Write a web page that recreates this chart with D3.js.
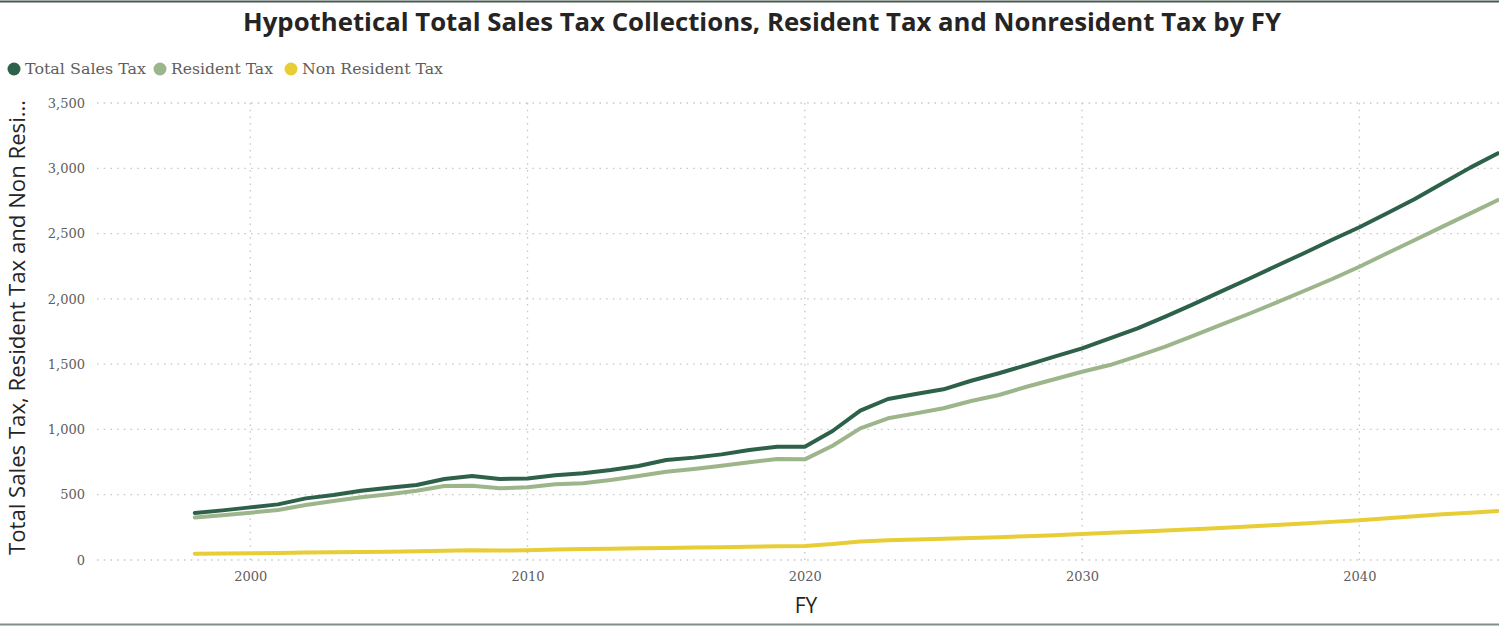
<!DOCTYPE html>
<html>
<head>
<meta charset="utf-8">
<script src="https://cdn.jsdelivr.net/npm/d3@7"></script>
<style>
  body { margin: 0; background: #fff; }
  svg { display: block; }
</style>
</head>
<body>
<svg width="1499" height="627"></svg>
<script>
// data
var years = d3.range(1998, 2046);
var totalTax = [360, 380, 403, 426, 472, 498, 531, 554, 574, 620, 643, 620, 625, 649,
  664, 689, 720, 766, 784, 809, 842, 868, 868, 988, 1144, 1233, 1271, 1307, 1373,
  1430, 1493, 1557, 1621, 1698, 1774, 1864, 1958, 2055, 2152, 2252, 2349, 2451,
  2548, 2655, 2765, 2885, 3005, 3115];
var residentTax = [326, 343, 362, 383, 421, 452, 480, 503, 531, 567, 569, 549, 557, 580,
  587, 613, 643, 676, 697, 722, 748, 774, 771, 875, 1008, 1085, 1123, 1162, 1218,
  1264, 1327, 1384, 1442, 1493, 1562, 1634, 1716, 1800, 1884, 1971, 2060, 2150,
  2246, 2349, 2451, 2553, 2655, 2757];
var nonResidentTax = [48, 50, 52, 54, 57, 59, 62, 64, 67, 71, 74, 72, 75, 80,
  84, 87, 90, 92, 95, 98, 102, 105, 108, 122, 142, 152, 157, 162, 168,
  175, 182, 190, 200, 208, 216, 225, 235, 245, 256, 268, 280, 292,
  305, 320, 335, 350, 362, 375];
var seriesNames = ["Total Sales Tax", "Resident Tax", "Non Resident Tax"];
var seriesColors = ["#2e6149", "#9db58b", "#e8cd36"];
var yTicks = [0, 500, 1000, 1500, 2000, 2500, 3000, 3500];
var xTicks = [2000, 2010, 2020, 2030, 2040];

var svg = d3.select("svg"),
    width = +svg.attr("width"),
    height = +svg.attr("height");

var x = d3.scaleLinear().domain([1994.4, 2045]).range([95, 1498]);
var y = d3.scaleLinear().domain([0, 3500]).range([560, 103]);

// frame lines top and bottom
svg.append("line").attr("x1", 0).attr("x2", width).attr("y1", 1.5).attr("y2", 1.5)
    .style("stroke", "#485a4e").style("stroke-width", 2);
svg.append("line").attr("x1", 0).attr("x2", width).attr("y1", 624.5).attr("y2", 624.5)
    .style("stroke", "#7f8f86").style("stroke-width", 2);

// title
svg.append("text")
    .attr("x", 762)
    .attr("y", 31)
    .attr("text-anchor", "middle")
    .attr("textLength", 1038)
    .attr("lengthAdjust", "spacingAndGlyphs")
    .style("font-family", "'Open Sans', sans-serif")
    .style("font-weight", "bold")
    .style("font-size", "25px")
    .style("fill", "#252423")
    .text("Hypothetical Total Sales Tax Collections, Resident Tax and Nonresident Tax by FY");

// legend
var legendX = [14, 160, 291];
var legendW = [121, 102, 141];
var legend = svg.append("g").selectAll("g")
    .data(seriesNames)
    .enter().append("g")
    .attr("transform", function (d, i) { return "translate(" + legendX[i] + ",69)"; });
legend.append("circle")
    .attr("r", 6.5)
    .style("fill", function (d, i) { return seriesColors[i]; });
legend.append("text")
    .attr("x", 11)
    .attr("dy", "0.35em")
    .attr("textLength", function (d, i) { return legendW[i]; })
    .attr("lengthAdjust", "spacingAndGlyphs")
    .style("font-family", "'DejaVu Serif', serif")
    .style("font-size", "15px")
    .style("fill", "#605e5c")
    .text(function (d) { return d; });

// gridlines
var grid = svg.append("g").style("stroke", "#c6c6c6").style("stroke-width", 1.3).style("stroke-dasharray", "1.5,5.2");
grid.selectAll(".hgrid")
    .data(yTicks)
    .enter().append("line")
    .attr("x1", 97).attr("x2", width)
    .attr("y1", function (d) { return y(d); })
    .attr("y2", function (d) { return y(d); });
grid.selectAll(".vgrid")
    .data(xTicks)
    .enter().append("line")
    .attr("x1", function (d) { return x(d); })
    .attr("x2", function (d) { return x(d); })
    .attr("y1", 103).attr("y2", 560);

// axes (labels only)
var yAxis = svg.append("g")
    .attr("transform", "translate(85,0)")
    .call(d3.axisLeft(y).tickValues(yTicks).tickSize(0).tickPadding(0).tickFormat(d3.format(",")));
var xAxis = svg.append("g")
    .attr("transform", "translate(0,572)")
    .call(d3.axisBottom(x).tickValues(xTicks).tickSize(0).tickPadding(0).tickFormat(d3.format("d")));
[yAxis, xAxis].forEach(function (a) {
  a.select(".domain").remove();
  a.selectAll("text")
    .style("font-family", "'DejaVu Serif', serif")
    .style("font-size", "13px")
    .style("fill", "#605e5c");
});

// axis titles
svg.append("text")
    .attr("x", 806)
    .attr("y", 613)
    .attr("text-anchor", "middle")
    .style("font-family", "'Open Sans', sans-serif")
    .style("font-size", "21px")
    .style("fill", "#252423")
    .text("FY");
svg.append("text")
    .attr("transform", "translate(25,555) rotate(-90)")
    .attr("textLength", 455)
    .attr("lengthAdjust", "spacingAndGlyphs")
    .style("font-family", "'Open Sans', sans-serif")
    .style("font-size", "21px")
    .style("fill", "#252423")
    .text("Total Sales Tax, Resident Tax and Non Resi\u2026");

// lines
var allSeries = [totalTax, residentTax, nonResidentTax];
var line = d3.line()
    .x(function (d, i) { return x(years[i]); })
    .y(function (d) { return y(d); });
svg.append("g").selectAll("path")
    .data(allSeries.slice().reverse())
    .enter().append("path")
    .attr("d", line)
    .style("fill", "none")
    .style("stroke", function (d, i) { return seriesColors[2 - i]; })
    .style("stroke-width", 4)
    .style("stroke-linejoin", "round")
    .style("stroke-linecap", "round");
</script>
</body>
</html>
